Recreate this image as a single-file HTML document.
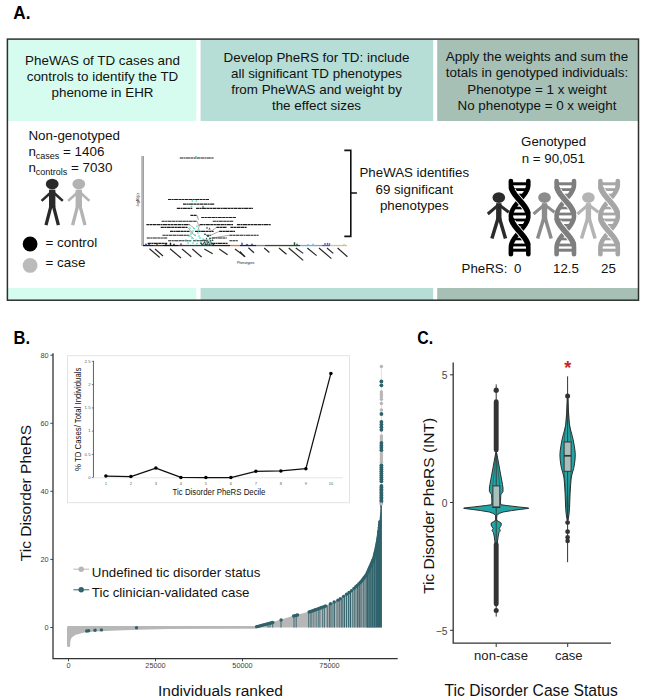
<!DOCTYPE html>
<html><head><meta charset="utf-8"><title>Figure</title>
<style>html,body{margin:0;padding:0;background:#fff}svg{display:block}text{font-family:"Liberation Sans",sans-serif}</style>
</head><body>
<svg width="647" height="700" viewBox="0 0 647 700">
<rect width="647" height="700" fill="#fff"/>
<text x="13.3" y="19.2" font-size="18.6" font-weight="bold" textLength="17.2" lengthAdjust="spacingAndGlyphs" fill="#000">A.</text>
<rect x="8" y="40" width="188.3" height="81" fill="#d5fcee"/>
<rect x="200.6" y="40" width="232.6" height="81" fill="#b6ddd6"/>
<rect x="437.2" y="40" width="201.3" height="81" fill="#a6c0b6"/>
<rect x="8" y="288" width="188.3" height="12.2" fill="#d5fcee"/>
<rect x="200.6" y="288" width="232.6" height="12.2" fill="#b6ddd6"/>
<rect x="437.2" y="288" width="201.3" height="12.2" fill="#a6c0b6"/>
<rect x="7.4" y="39.1" width="631.1" height="261.1" fill="none" stroke="#2e2e2e" stroke-width="1.5"/>
<text x="102.5" y="65" font-size="13.4" text-anchor="middle" fill="#111">PheWAS of TD cases and</text>
<text x="102.5" y="81" font-size="13.4" text-anchor="middle" fill="#111">controls to identify the TD</text>
<text x="102.5" y="97" font-size="13.4" text-anchor="middle" fill="#111">phenome in EHR</text>
<text x="316.5" y="62.1" font-size="13.4" text-anchor="middle" fill="#111">Develop PheRS for TD: include</text>
<text x="316.5" y="78.1" font-size="13.4" text-anchor="middle" fill="#111">all significant TD phenotypes</text>
<text x="316.5" y="94.1" font-size="13.4" text-anchor="middle" fill="#111">from PheWAS and weight by</text>
<text x="316.5" y="110.1" font-size="13.4" text-anchor="middle" fill="#111">the effect sizes</text>
<text x="537" y="61.2" font-size="13.4" text-anchor="middle" fill="#111">Apply the weights and sum the</text>
<text x="537" y="77.4" font-size="13.4" text-anchor="middle" fill="#111">totals in genotyped individuals:</text>
<text x="537" y="93.6" font-size="13.4" text-anchor="middle" fill="#111">Phenotype = 1 x weight</text>
<text x="537" y="109.8" font-size="13.4" text-anchor="middle" fill="#111">No phenotype = 0 x weight</text>
<text x="28.4" y="139.5" font-size="13.4" fill="#111">Non-genotyped</text>
<text x="28.4" y="156.1" font-size="13.4" fill="#111">n<tspan font-size="9" dy="3">cases</tspan><tspan dy="-3"> = 1406</tspan></text>
<text x="28.4" y="172" font-size="13.4" fill="#111">n<tspan font-size="9" dy="3">controls</tspan><tspan dy="-3"> = 7030</tspan></text>
<g fill="#2a2a2a" stroke="#2a2a2a" stroke-linecap="butt"><ellipse cx="52.2" cy="184.1" rx="6.40" ry="5.30" stroke="none"/><rect x="49.00" y="189.70" width="6.40" height="17.50" stroke="none"/><path d="M52.2 191.30 L41.60 200.90 M52.2 191.30 L62.80 200.90" stroke-width="2.60" fill="none"/><path d="M51.20 205.10 L46.00 225.10 M53.20 205.10 L58.40 225.10" stroke-width="3.30" fill="none"/></g>
<g fill="#b3b3b3" stroke="#b3b3b3" stroke-linecap="butt"><ellipse cx="78.8" cy="184.1" rx="6.40" ry="5.30" stroke="none"/><rect x="75.60" y="189.70" width="6.40" height="17.50" stroke="none"/><path d="M78.8 191.30 L68.20 200.90 M78.8 191.30 L89.40 200.90" stroke-width="2.60" fill="none"/><path d="M77.80 205.10 L72.60 225.10 M79.80 205.10 L85.00 225.10" stroke-width="3.30" fill="none"/></g>
<circle cx="30.1" cy="244" r="7.4" fill="#000"/>
<circle cx="30.1" cy="265.4" r="7.4" fill="#bbbbbb"/>
<text x="45.5" y="246.5" font-size="13.4" fill="#111">= control</text>
<text x="45.5" y="267.3" font-size="13.4" fill="#111">= case</text>
<g>
<rect x="141.2" y="156" width="2.3" height="90" fill="#b4b4b4"/>
<rect x="143.3" y="156" width="0.5" height="90" fill="#666"/>
<text transform="translate(138.6,207) rotate(-90)" font-size="3.4" fill="#111">-log10(p)</text>
<rect x="143" y="244.9" width="10" height="1.3" fill="#15154a"/>
<rect x="153" y="244.9" width="10" height="1.3" fill="#5a2418"/>
<rect x="163" y="244.9" width="15" height="1.3" fill="#111"/>
<rect x="178" y="244.9" width="6" height="1.3" fill="#4a2a5a"/>
<rect x="184" y="244.9" width="28" height="1.3" fill="#1f4a44"/>
<rect x="212" y="244.9" width="18" height="1.3" fill="#2a1a14"/>
<rect x="230" y="244.9" width="10" height="1.3" fill="#e0703c"/>
<rect x="240" y="244.9" width="16" height="1.3" fill="#1c1c5e"/>
<rect x="256" y="244.9" width="9" height="1.3" fill="#8a7a80"/>
<rect x="265" y="244.9" width="25" height="1.3" fill="#3a4a2a"/>
<rect x="290" y="244.9" width="10" height="1.3" fill="#1d4a2a"/>
<rect x="300" y="244.9" width="15" height="1.3" fill="#6aaede"/>
<rect x="315" y="244.9" width="7" height="1.3" fill="#999"/>
<rect x="322" y="244.9" width="8" height="1.3" fill="#5a5ab8"/>
<rect x="330" y="244.9" width="17" height="1.3" fill="#d8c090"/>
<rect x="145.3" y="243.70000000000002" width="1.4" height="1.2" fill="#15154a"/>
<rect x="148.3" y="243.9" width="1.4" height="1" fill="#15154a"/>
<rect x="156.3" y="243.9" width="1.4" height="1" fill="#5a2418"/>
<rect x="165.3" y="243.70000000000002" width="1.4" height="1.2" fill="#111"/>
<rect x="169.8" y="242.70000000000002" width="1.4" height="2.2" fill="#111"/>
<rect x="173.3" y="243.70000000000002" width="1.4" height="1.2" fill="#111"/>
<rect x="180.3" y="243.4" width="1.4" height="1.5" fill="#4a2a5a"/>
<rect x="241.3" y="242.70000000000002" width="1.4" height="2.2" fill="#3a3ac0"/>
<rect x="246.3" y="243.9" width="1.4" height="1" fill="#1c1c5e"/>
<rect x="251.3" y="243.70000000000002" width="1.4" height="1.2" fill="#1c1c5e"/>
<rect x="293.8" y="242.3" width="1.4" height="2.6" fill="#1d4a2a"/>
<rect x="296.3" y="243.70000000000002" width="1.4" height="1.2" fill="#1d4a2a"/>
<rect x="307.3" y="244.1" width="1.4" height="0.8" fill="#6aaede"/>
<rect x="312.3" y="243.70000000000002" width="1.4" height="1.2" fill="#6aaede"/>
<rect x="324.3" y="243.1" width="1.4" height="1.8" fill="#5a5ab8"/>
<rect x="326.8" y="242.9" width="1.4" height="2" fill="#5a5ab8"/>
<rect x="328.8" y="243.3" width="1.4" height="1.6" fill="#5a5ab8"/>
<rect x="343.3" y="243.9" width="1.4" height="1" fill="#d8c090"/>
<path d="M179.8 158 H213.6" stroke="#111" stroke-width="1.15" stroke-dasharray="3.2 0.4 2.1 0.4 4 0.4" opacity="0.95"/>
<path d="M168 199.5 H209" stroke="#111" stroke-width="1.15" stroke-dasharray="3.2 0.4 2.1 0.4 4 0.4" opacity="0.95"/>
<path d="M183 204.1 H214.6" stroke="#111" stroke-width="1.15" stroke-dasharray="3.2 0.4 2.1 0.4 4 0.4" opacity="0.95"/>
<path d="M176.8 208.4 H192.3" stroke="#111" stroke-width="1.15" stroke-dasharray="3.2 0.4 2.1 0.4 4 0.4" opacity="0.95"/>
<path d="M196 208.4 H253" stroke="#111" stroke-width="1.15" stroke-dasharray="3.2 0.4 2.1 0.4 4 0.4" opacity="0.95"/>
<path d="M190.4 215.3 H197" stroke="#111" stroke-width="1.15" stroke-dasharray="3.2 0.4 2.1 0.4 4 0.4" opacity="0.95"/>
<path d="M201.2 217.5 H236" stroke="#111" stroke-width="1.15" stroke-dasharray="3.2 0.4 2.1 0.4 4 0.4" opacity="0.95"/>
<path d="M161.6 221.2 H197" stroke="#111" stroke-width="1.15" stroke-dasharray="3.2 0.4 2.1 0.4 4 0.4" opacity="0.95"/>
<path d="M212.7 221.2 H233.2" stroke="#111" stroke-width="1.15" stroke-dasharray="3.2 0.4 2.1 0.4 4 0.4" opacity="0.95"/>
<path d="M146.4 224.6 H189.5" stroke="#111" stroke-width="1.15" stroke-dasharray="3.2 0.4 2.1 0.4 4 0.4" opacity="0.95"/>
<path d="M199.7 224.6 H233" stroke="#111" stroke-width="1.15" stroke-dasharray="3.2 0.4 2.1 0.4 4 0.4" opacity="0.95"/>
<path d="M236.9 224.6 H270.7" stroke="#111" stroke-width="1.15" stroke-dasharray="3.2 0.4 2.1 0.4 4 0.4" opacity="0.95"/>
<path d="M160.7 227.4 H187.6" stroke="#111" stroke-width="1.15" stroke-dasharray="3.2 0.4 2.1 0.4 4 0.4" opacity="0.95"/>
<path d="M216.4 227.4 H226.7" stroke="#111" stroke-width="1.15" stroke-dasharray="3.2 0.4 2.1 0.4 4 0.4" opacity="0.95"/>
<path d="M230.4 227.4 H247" stroke="#111" stroke-width="1.15" stroke-dasharray="3.2 0.4 2.1 0.4 4 0.4" opacity="0.95"/>
<path d="M170 231.4 H189.5" stroke="#111" stroke-width="1.15" stroke-dasharray="3.2 0.4 2.1 0.4 4 0.4" opacity="0.95"/>
<path d="M195 231.4 H213.6" stroke="#111" stroke-width="1.15" stroke-dasharray="3.2 0.4 2.1 0.4 4 0.4" opacity="0.95"/>
<path d="M219.2 231.4 H235" stroke="#111" stroke-width="1.15" stroke-dasharray="3.2 0.4 2.1 0.4 4 0.4" opacity="0.95"/>
<path d="M162.5 235.2 H189.5" stroke="#111" stroke-width="1.15" stroke-dasharray="3.2 0.4 2.1 0.4 4 0.4" opacity="0.95"/>
<path d="M206.2 235.2 H210.9" stroke="#111" stroke-width="1.15" stroke-dasharray="3.2 0.4 2.1 0.4 4 0.4" opacity="0.95"/>
<path d="M229.4 235.2 H258.6" stroke="#111" stroke-width="1.15" stroke-dasharray="3.2 0.4 2.1 0.4 4 0.4" opacity="0.95"/>
<path d="M146.7 238 H167.2" stroke="#111" stroke-width="1.15" stroke-dasharray="3.2 0.4 2.1 0.4 4 0.4" opacity="0.95"/>
<path d="M211.8 238 H226.7" stroke="#111" stroke-width="1.15" stroke-dasharray="3.2 0.4 2.1 0.4 4 0.4" opacity="0.95"/>
<path d="M168.1 240.7 H191.3" stroke="#111" stroke-width="1.15" stroke-dasharray="3.2 0.4 2.1 0.4 4 0.4" opacity="0.95"/>
<path d="M193.2 240.7 H208" stroke="#111" stroke-width="1.15" stroke-dasharray="3.2 0.4 2.1 0.4 4 0.4" opacity="0.95"/>
<path d="M229.4 240.7 H237.8" stroke="#111" stroke-width="1.15" stroke-dasharray="3.2 0.4 2.1 0.4 4 0.4" opacity="0.95"/>
<path d="M147.7 243.3 H167.2" stroke="#111" stroke-width="1.15" stroke-dasharray="3.2 0.4 2.1 0.4 4 0.4" opacity="0.95"/>
<path d="M211.8 243.3 H227.6" stroke="#111" stroke-width="1.15" stroke-dasharray="3.2 0.4 2.1 0.4 4 0.4" opacity="0.95"/>
<path d="M189.5 224.6 L195 229" stroke="#333" stroke-width="0.4"/>
<path d="M187.6 227.4 L193 233" stroke="#333" stroke-width="0.4"/>
<path d="M189.5 231.4 L196 236" stroke="#333" stroke-width="0.4"/>
<path d="M189.5 235.2 L194 239" stroke="#333" stroke-width="0.4"/>
<path d="M199.7 224.6 L198 230" stroke="#333" stroke-width="0.4"/>
<path d="M216.4 227.4 L210 232" stroke="#333" stroke-width="0.4"/>
<path d="M219.2 231.4 L209 236" stroke="#333" stroke-width="0.4"/>
<path d="M229.4 235.2 L212 238" stroke="#333" stroke-width="0.4"/>
<path d="M211.8 238 L207 241" stroke="#333" stroke-width="0.4"/>
<path d="M197 215.3 L198.5 220" stroke="#333" stroke-width="0.4"/>
<path d="M197 221.2 L199 226" stroke="#333" stroke-width="0.4"/>
<circle cx="196" cy="156.7" r="0.85" fill="#3fe0c0"/>
<circle cx="192.3" cy="201" r="0.85" fill="#3fe0c0"/>
<circle cx="196.5" cy="201" r="0.85" fill="#3fe0c0"/>
<circle cx="191.5" cy="206.5" r="0.85" fill="#3fe0c0"/>
<circle cx="197.5" cy="217" r="0.85" fill="#3fe0c0"/>
<circle cx="190" cy="228" r="0.85" fill="#3fe0c0"/>
<circle cx="193" cy="231" r="0.85" fill="#3fe0c0"/>
<circle cx="197" cy="226" r="0.85" fill="#3fe0c0"/>
<circle cx="199" cy="230" r="0.85" fill="#3fe0c0"/>
<circle cx="195" cy="235" r="0.85" fill="#3fe0c0"/>
<circle cx="192" cy="238" r="0.85" fill="#3fe0c0"/>
<circle cx="190" cy="241" r="0.85" fill="#3fe0c0"/>
<circle cx="196" cy="240" r="0.85" fill="#3fe0c0"/>
<circle cx="199" cy="236" r="0.85" fill="#3fe0c0"/>
<circle cx="201" cy="242" r="0.85" fill="#3fe0c0"/>
<circle cx="193" cy="243" r="0.85" fill="#3fe0c0"/>
<circle cx="197" cy="243.5" r="0.85" fill="#3fe0c0"/>
<circle cx="188" cy="243" r="0.85" fill="#3fe0c0"/>
<circle cx="186" cy="240" r="0.85" fill="#3fe0c0"/>
<circle cx="203" cy="239" r="0.85" fill="#3fe0c0"/>
<circle cx="205" cy="243" r="0.85" fill="#3fe0c0"/>
<circle cx="191" cy="234" r="0.85" fill="#3fe0c0"/>
<circle cx="198" cy="233" r="0.85" fill="#3fe0c0"/>
<circle cx="200" cy="238" r="0.85" fill="#3fe0c0"/>
<circle cx="194" cy="228.5" r="0.85" fill="#3fe0c0"/>
<circle cx="208" cy="243.5" r="0.85" fill="#3fe0c0"/>
<circle cx="210" cy="241" r="0.85" fill="#3fe0c0"/>
<circle cx="189" cy="236" r="0.85" fill="#3fe0c0"/>
<path d="M200.9 244.9 L203.1 244.9 L202 242.9 Z" fill="#1f5048"/>
<path d="M202.4 244.4 L204.6 244.4 L203.5 242.4 Z" fill="#1f5048"/>
<path d="M204.4 245.1 L206.6 245.1 L205.5 243.1 Z" fill="#1f5048"/>
<path d="M206.4 244.70000000000002 L208.6 244.70000000000002 L207.5 242.70000000000002 Z" fill="#1f5048"/>
<path d="M208.4 244.9 L210.6 244.9 L209.5 242.9 Z" fill="#1f5048"/>
<path d="M210.4 244.5 L212.6 244.5 L211.5 242.5 Z" fill="#1f5048"/>
<path d="M212.4 244.9 L214.6 244.9 L213.5 242.9 Z" fill="#1f5048"/>
<path d="M203.4 242.9 L205.6 242.9 L204.5 240.9 Z" fill="#1f5048"/>
<path d="M207.4 242.9 L209.6 242.9 L208.5 240.9 Z" fill="#1f5048"/>
<path d="M209.4 241.4 L211.6 241.4 L210.5 239.4 Z" fill="#1f5048"/>
<path d="M205.4 239.4 L207.6 239.4 L206.5 237.4 Z" fill="#1f5048"/>
<path d="M201.9 207.4 L204.1 207.4 L203 205.4 Z" fill="#1f5048"/>
<path d="M205.9 228.4 L208.1 228.4 L207 226.4 Z" fill="#1f5048"/>
<path d="M208.4 229.4 L210.6 229.4 L209.5 227.4 Z" fill="#1f5048"/>
<path d="M203.9 234.9 L206.1 234.9 L205 232.9 Z" fill="#1f5048"/>
<path d="M206.9 236.9 L209.1 236.9 L208 234.9 Z" fill="#1f5048"/>
<path d="M208.9 238.9 L211.1 238.9 L210 236.9 Z" fill="#1f5048"/>
<path d="M202.9 240.9 L205.1 240.9 L204 238.9 Z" fill="#1f5048"/>
<path d="M205.9 242.4 L208.1 242.4 L207 240.4 Z" fill="#1f5048"/>
<path d="M209.9 243.4 L212.1 243.4 L211 241.4 Z" fill="#1f5048"/>
<path d="M199.9 243.9 L202.1 243.9 L201 241.9 Z" fill="#1f5048"/>
<path d="M211.4 240.9 L213.6 240.9 L212.5 238.9 Z" fill="#1f5048"/>
<path d="M204.9 244.9 L207.1 244.9 L206 242.9 Z" fill="#1f5048"/>
<path d="M149.5 248.7 L159.7 257.5" stroke="#1a1a1a" stroke-width="1.15" opacity="0.95"/>
<path d="M155 249 L163 256" stroke="#1a1a1a" stroke-width="1.15" opacity="0.95"/>
<path d="M170 248.7 L181 258" stroke="#1a1a1a" stroke-width="1.15" opacity="0.95"/>
<path d="M182 249 L191.3 256.7" stroke="#1a1a1a" stroke-width="1.15" opacity="0.95"/>
<path d="M192.3 249 L201.6 257" stroke="#1a1a1a" stroke-width="1.15" opacity="0.95"/>
<path d="M204.3 249 L212.7 253.8" stroke="#1a1a1a" stroke-width="1.15" opacity="0.95"/>
<path d="M219.2 249 L227.6 254.7" stroke="#1a1a1a" stroke-width="1.15" opacity="0.95"/>
<path d="M235 249 L245.2 256.7" stroke="#1a1a1a" stroke-width="1.15" opacity="0.95"/>
<path d="M240 251.5 L244.6 256.7" stroke="#1a1a1a" stroke-width="1.15" opacity="0.95"/>
<path d="M248.4 247.8 L254 252.8" stroke="#1a1a1a" stroke-width="1.15" opacity="0.95"/>
<path d="M264.2 248 L269.4 252.5" stroke="#1a1a1a" stroke-width="1.15" opacity="0.95"/>
<path d="M279 248 L286.5 254.3" stroke="#1a1a1a" stroke-width="1.15" opacity="0.95"/>
<path d="M288.7 248 L303.2 260.4" stroke="#1a1a1a" stroke-width="1.15" opacity="0.95"/>
<path d="M295.8 248 L303.2 253.4" stroke="#1a1a1a" stroke-width="1.15" opacity="0.95"/>
<path d="M307.3 248 L316.6 255.6" stroke="#1a1a1a" stroke-width="1.15" opacity="0.95"/>
<path d="M319 248 L331.4 258.6" stroke="#1a1a1a" stroke-width="1.15" opacity="0.95"/>
<path d="M327 248 L333.3 253.4" stroke="#1a1a1a" stroke-width="1.15" opacity="0.95"/>
<path d="M337.6 248 L347.4 256.7" stroke="#1a1a1a" stroke-width="1.15" opacity="0.95"/>
<text x="237" y="264.2" font-size="3.3" fill="#222">Phenotypes</text>
</g>
<path d="M344.3 150.4 H350.8 V236.4 H344.3 M350.8 193 H356.9" fill="none" stroke="#111" stroke-width="1.6"/>
<text x="414.3" y="177.2" font-size="13.3" text-anchor="middle" fill="#111">PheWAS identifies</text>
<text x="414.3" y="194.1" font-size="13.3" text-anchor="middle" fill="#111">69 significant</text>
<text x="414.3" y="209.7" font-size="13.3" text-anchor="middle" fill="#111">phenotypes</text>
<text x="553.6" y="146" font-size="13.3" text-anchor="middle" fill="#111">Genotyped</text>
<text x="553.3" y="163" font-size="13.3" text-anchor="middle" fill="#111">n = 90,051</text>
<g fill="#2b2b2b" stroke="#2b2b2b" stroke-linecap="butt"><ellipse cx="498.8" cy="197.6" rx="6.3" ry="5.3" stroke="none"/><rect x="496.10" y="203.20" width="5.4" height="17.4" stroke="none"/><path d="M498.8 204.60 L487.80 214.00 M498.8 204.60 L508.80 212.20" stroke-width="3" fill="none"/><path d="M498.00 218.60 L491.90 238.40 M499.60 218.60 L505.50 238.40" stroke-width="3.5" fill="none"/></g>
<g fill="none" stroke="#000" stroke-linecap="round" stroke-linejoin="round">
<path d="M510.90 183.8 H528.30" stroke-width="3.0" stroke-linecap="butt"/>
<path d="M512.00 189.6 H527.20" stroke-width="2.8" stroke-linecap="butt"/>
<path d="M515.25 195 H523.95" stroke-width="2.6" stroke-linecap="butt"/>
<path d="M513.53 208 H525.67" stroke-width="2.6" stroke-linecap="butt"/>
<path d="M511.07 214 H528.13" stroke-width="2.8" stroke-linecap="butt"/>
<path d="M511.58 220 H527.62" stroke-width="2.8" stroke-linecap="butt"/>
<path d="M514.38 225.3 H524.82" stroke-width="2.6" stroke-linecap="butt"/>
<path d="M513.84 239 H525.36" stroke-width="2.6" stroke-linecap="butt"/>
<path d="M511.17 245 H528.03" stroke-width="2.8" stroke-linecap="butt"/>
<path d="M510.90 250.2 H528.30" stroke-width="3.0" stroke-linecap="butt"/>
<path d="M528.30 181.00 L528.30 182.22 L528.30 183.44 L528.30 184.66 L528.22 185.88 L528.01 187.10 L527.68 188.32 L527.22 189.54 L526.66 190.76 L525.99 191.98 L525.23 193.20 L524.38 194.42 L523.46 195.64 L522.49 196.86 L521.47 198.08 L520.42 199.30 L519.37 200.52 L518.31 201.74 L517.28 202.96 L516.28 204.18 L515.33 205.40 L514.44 206.62 L513.63 207.84 L512.90 209.06 L512.28 210.28 L511.76 211.50 L511.36 212.72 L511.08 213.94 L510.93 215.16 L510.91 216.38 L511.01 217.60 L511.24 218.82 L511.60 220.04 L512.07 221.26 L512.65 222.48 L513.34 223.70 L514.12 224.92 L514.98 226.14 L515.91 227.36 L516.90 228.58 L517.92 229.80 L518.97 231.02 L520.02 232.24 L521.08 233.46 L522.11 234.68 L523.10 235.90 L524.04 237.12 L524.92 238.34 L525.71 239.56 L526.42 240.78 L527.02 242.00 L527.52 243.22 L527.90 244.44 L528.15 245.66 L528.28 246.88 L528.30 248.10 L528.30 249.32 L528.30 250.54 L528.30 251.76 L528.30 252.98 L528.30 254.20" stroke-width="4.6"/>
<path d="M510.90 181.00 L510.90 182.22 L510.90 183.44 L510.90 184.66 L510.98 185.88 L511.19 187.10 L511.52 188.32 L511.98 189.54 L512.54 190.76 L513.21 191.98 L513.97 193.20 L514.82 194.42 L515.74 195.64 L516.71 196.86 L517.73 198.08 L518.78 199.30 L519.83 200.52 L520.89 201.74 L521.92 202.96 L522.92 204.18 L523.87 205.40 L524.76 206.62 L525.57 207.84 L526.30 209.06 L526.92 210.28 L527.44 211.50 L527.84 212.72 L528.12 213.94 L528.27 215.16 L528.29 216.38 L528.19 217.60 L527.96 218.82 L527.60 220.04 L527.13 221.26 L526.55 222.48 L525.86 223.70 L525.08 224.92 L524.22 226.14 L523.29 227.36 L522.30 228.58 L521.28 229.80 L520.23 231.02 L519.18 232.24 L518.12 233.46 L517.09 234.68 L516.10 235.90 L515.16 237.12 L514.28 238.34 L513.49 239.56 L512.78 240.78 L512.18 242.00 L511.68 243.22 L511.30 244.44 L511.05 245.66 L510.92 246.88 L510.90 248.10 L510.90 249.32 L510.90 250.54 L510.90 251.76 L510.90 252.98 L510.90 254.20" stroke-width="4.6"/>
<path d="M512.18 190.01 L512.51 190.69 L512.87 191.38 L513.26 192.06 L513.68 192.74 L514.12 193.42 L514.60 194.11 L515.09 194.79 L515.61 195.47 L516.14 196.16 L516.70 196.84 L517.26 197.52 L517.84 198.20 L518.42 198.88 L519.01 199.57 L519.60 200.25 L520.19 200.93 L520.78 201.62 L521.36 202.30 L521.94 202.98 L522.50 203.66 L523.06 204.34 L523.59 205.03 L524.11 205.71 L524.60 206.39 L525.08 207.08 L525.52 207.76 L525.94 208.44 L526.33 209.12 L526.69 209.81 L527.02 210.49" stroke="#fff" stroke-width="7.199999999999999" stroke-linecap="butt"/>
<path d="M511.43 188.01 L511.70 188.83 L512.02 189.64 L512.39 190.46 L512.81 191.28 L513.28 192.09 L513.78 192.91 L514.33 193.72 L514.91 194.54 L515.52 195.35 L516.16 196.17 L516.82 196.99 L517.50 197.80 L518.19 198.62 L518.89 199.43 L519.60 200.25 L520.31 201.07 L521.01 201.88 L521.70 202.70 L522.38 203.51 L523.04 204.33 L523.68 205.15 L524.29 205.96 L524.87 206.78 L525.42 207.59 L525.92 208.41 L526.39 209.22 L526.81 210.04 L527.18 210.86 L527.50 211.67 L527.77 212.49" stroke-width="5.5"/>
<path d="M512.18 221.51 L512.51 222.19 L512.87 222.88 L513.26 223.56 L513.68 224.24 L514.12 224.92 L514.60 225.61 L515.09 226.29 L515.61 226.97 L516.14 227.66 L516.70 228.34 L517.26 229.02 L517.84 229.70 L518.42 230.38 L519.01 231.07 L519.60 231.75 L520.19 232.43 L520.78 233.12 L521.36 233.80 L521.94 234.48 L522.50 235.16 L523.06 235.84 L523.59 236.53 L524.11 237.21 L524.60 237.89 L525.08 238.58 L525.52 239.26 L525.94 239.94 L526.33 240.62 L526.69 241.31 L527.02 241.99" stroke="#fff" stroke-width="7.199999999999999" stroke-linecap="butt"/>
<path d="M511.43 219.51 L511.70 220.33 L512.02 221.14 L512.39 221.96 L512.81 222.78 L513.28 223.59 L513.78 224.41 L514.33 225.22 L514.91 226.04 L515.52 226.85 L516.16 227.67 L516.82 228.49 L517.50 229.30 L518.19 230.12 L518.89 230.93 L519.60 231.75 L520.31 232.57 L521.01 233.38 L521.70 234.20 L522.38 235.01 L523.04 235.83 L523.68 236.65 L524.29 237.46 L524.87 238.28 L525.42 239.09 L525.92 239.91 L526.39 240.72 L526.81 241.54 L527.18 242.36 L527.50 243.17 L527.77 243.99" stroke-width="5.5"/>
</g>
<g fill="#8c8c8c" stroke="#8c8c8c" stroke-linecap="butt"><ellipse cx="544.5" cy="197.6" rx="6.3" ry="5.3" stroke="none"/><rect x="541.80" y="203.20" width="5.4" height="17.4" stroke="none"/><path d="M544.5 204.60 L533.50 214.00 M544.5 204.60 L554.50 212.20" stroke-width="3" fill="none"/><path d="M543.70 218.60 L537.60 238.40 M545.30 218.60 L551.20 238.40" stroke-width="3.5" fill="none"/></g>
<g fill="none" stroke="#7e7e7e" stroke-linecap="round" stroke-linejoin="round">
<path d="M556.60 183.8 H574.00" stroke-width="3.0" stroke-linecap="butt"/>
<path d="M557.70 189.6 H572.90" stroke-width="2.8" stroke-linecap="butt"/>
<path d="M560.95 195 H569.65" stroke-width="2.6" stroke-linecap="butt"/>
<path d="M559.23 208 H571.37" stroke-width="2.6" stroke-linecap="butt"/>
<path d="M556.77 214 H573.83" stroke-width="2.8" stroke-linecap="butt"/>
<path d="M557.28 220 H573.32" stroke-width="2.8" stroke-linecap="butt"/>
<path d="M560.08 225.3 H570.52" stroke-width="2.6" stroke-linecap="butt"/>
<path d="M559.54 239 H571.06" stroke-width="2.6" stroke-linecap="butt"/>
<path d="M556.87 245 H573.73" stroke-width="2.8" stroke-linecap="butt"/>
<path d="M556.60 250.2 H574.00" stroke-width="3.0" stroke-linecap="butt"/>
<path d="M574.00 181.00 L574.00 182.22 L574.00 183.44 L574.00 184.66 L573.92 185.88 L573.71 187.10 L573.38 188.32 L572.92 189.54 L572.36 190.76 L571.69 191.98 L570.93 193.20 L570.08 194.42 L569.16 195.64 L568.19 196.86 L567.17 198.08 L566.12 199.30 L565.07 200.52 L564.01 201.74 L562.98 202.96 L561.98 204.18 L561.03 205.40 L560.14 206.62 L559.33 207.84 L558.60 209.06 L557.98 210.28 L557.46 211.50 L557.06 212.72 L556.78 213.94 L556.63 215.16 L556.61 216.38 L556.71 217.60 L556.94 218.82 L557.30 220.04 L557.77 221.26 L558.35 222.48 L559.04 223.70 L559.82 224.92 L560.68 226.14 L561.61 227.36 L562.60 228.58 L563.62 229.80 L564.67 231.02 L565.72 232.24 L566.78 233.46 L567.81 234.68 L568.80 235.90 L569.74 237.12 L570.62 238.34 L571.41 239.56 L572.12 240.78 L572.72 242.00 L573.22 243.22 L573.60 244.44 L573.85 245.66 L573.98 246.88 L574.00 248.10 L574.00 249.32 L574.00 250.54 L574.00 251.76 L574.00 252.98 L574.00 254.20" stroke-width="4.6"/>
<path d="M556.60 181.00 L556.60 182.22 L556.60 183.44 L556.60 184.66 L556.68 185.88 L556.89 187.10 L557.22 188.32 L557.68 189.54 L558.24 190.76 L558.91 191.98 L559.67 193.20 L560.52 194.42 L561.44 195.64 L562.41 196.86 L563.43 198.08 L564.48 199.30 L565.53 200.52 L566.59 201.74 L567.62 202.96 L568.62 204.18 L569.57 205.40 L570.46 206.62 L571.27 207.84 L572.00 209.06 L572.62 210.28 L573.14 211.50 L573.54 212.72 L573.82 213.94 L573.97 215.16 L573.99 216.38 L573.89 217.60 L573.66 218.82 L573.30 220.04 L572.83 221.26 L572.25 222.48 L571.56 223.70 L570.78 224.92 L569.92 226.14 L568.99 227.36 L568.00 228.58 L566.98 229.80 L565.93 231.02 L564.88 232.24 L563.82 233.46 L562.79 234.68 L561.80 235.90 L560.86 237.12 L559.98 238.34 L559.19 239.56 L558.48 240.78 L557.88 242.00 L557.38 243.22 L557.00 244.44 L556.75 245.66 L556.62 246.88 L556.60 248.10 L556.60 249.32 L556.60 250.54 L556.60 251.76 L556.60 252.98 L556.60 254.20" stroke-width="4.6"/>
<path d="M557.88 190.01 L558.21 190.69 L558.57 191.38 L558.96 192.06 L559.38 192.74 L559.82 193.42 L560.30 194.11 L560.79 194.79 L561.31 195.47 L561.84 196.16 L562.40 196.84 L562.96 197.52 L563.54 198.20 L564.12 198.88 L564.71 199.57 L565.30 200.25 L565.89 200.93 L566.48 201.62 L567.06 202.30 L567.64 202.98 L568.20 203.66 L568.76 204.34 L569.29 205.03 L569.81 205.71 L570.30 206.39 L570.78 207.08 L571.22 207.76 L571.64 208.44 L572.03 209.12 L572.39 209.81 L572.72 210.49" stroke="#fff" stroke-width="7.199999999999999" stroke-linecap="butt"/>
<path d="M557.13 188.01 L557.40 188.83 L557.72 189.64 L558.09 190.46 L558.51 191.28 L558.98 192.09 L559.48 192.91 L560.03 193.72 L560.61 194.54 L561.22 195.35 L561.86 196.17 L562.52 196.99 L563.20 197.80 L563.89 198.62 L564.59 199.43 L565.30 200.25 L566.01 201.07 L566.71 201.88 L567.40 202.70 L568.08 203.51 L568.74 204.33 L569.38 205.15 L569.99 205.96 L570.57 206.78 L571.12 207.59 L571.62 208.41 L572.09 209.22 L572.51 210.04 L572.88 210.86 L573.20 211.67 L573.47 212.49" stroke-width="5.5"/>
<path d="M557.88 221.51 L558.21 222.19 L558.57 222.88 L558.96 223.56 L559.38 224.24 L559.82 224.92 L560.30 225.61 L560.79 226.29 L561.31 226.97 L561.84 227.66 L562.40 228.34 L562.96 229.02 L563.54 229.70 L564.12 230.38 L564.71 231.07 L565.30 231.75 L565.89 232.43 L566.48 233.12 L567.06 233.80 L567.64 234.48 L568.20 235.16 L568.76 235.84 L569.29 236.53 L569.81 237.21 L570.30 237.89 L570.78 238.58 L571.22 239.26 L571.64 239.94 L572.03 240.62 L572.39 241.31 L572.72 241.99" stroke="#fff" stroke-width="7.199999999999999" stroke-linecap="butt"/>
<path d="M557.13 219.51 L557.40 220.33 L557.72 221.14 L558.09 221.96 L558.51 222.78 L558.98 223.59 L559.48 224.41 L560.03 225.22 L560.61 226.04 L561.22 226.85 L561.86 227.67 L562.52 228.49 L563.20 229.30 L563.89 230.12 L564.59 230.93 L565.30 231.75 L566.01 232.57 L566.71 233.38 L567.40 234.20 L568.08 235.01 L568.74 235.83 L569.38 236.65 L569.99 237.46 L570.57 238.28 L571.12 239.09 L571.62 239.91 L572.09 240.72 L572.51 241.54 L572.88 242.36 L573.20 243.17 L573.47 243.99" stroke-width="5.5"/>
</g>
<g fill="#b4b4b4" stroke="#b4b4b4" stroke-linecap="butt"><ellipse cx="588.4" cy="197.6" rx="6.3" ry="5.3" stroke="none"/><rect x="585.70" y="203.20" width="5.4" height="17.4" stroke="none"/><path d="M588.4 204.60 L577.40 214.00 M588.4 204.60 L598.40 212.20" stroke-width="3" fill="none"/><path d="M587.60 218.60 L581.50 238.40 M589.20 218.60 L595.10 238.40" stroke-width="3.5" fill="none"/></g>
<g fill="none" stroke="#a6a6a6" stroke-linecap="round" stroke-linejoin="round">
<path d="M600.40 183.8 H617.80" stroke-width="3.0" stroke-linecap="butt"/>
<path d="M601.50 189.6 H616.70" stroke-width="2.8" stroke-linecap="butt"/>
<path d="M604.75 195 H613.45" stroke-width="2.6" stroke-linecap="butt"/>
<path d="M603.03 208 H615.17" stroke-width="2.6" stroke-linecap="butt"/>
<path d="M600.57 214 H617.63" stroke-width="2.8" stroke-linecap="butt"/>
<path d="M601.08 220 H617.12" stroke-width="2.8" stroke-linecap="butt"/>
<path d="M603.88 225.3 H614.32" stroke-width="2.6" stroke-linecap="butt"/>
<path d="M603.34 239 H614.86" stroke-width="2.6" stroke-linecap="butt"/>
<path d="M600.67 245 H617.53" stroke-width="2.8" stroke-linecap="butt"/>
<path d="M600.40 250.2 H617.80" stroke-width="3.0" stroke-linecap="butt"/>
<path d="M617.80 181.00 L617.80 182.22 L617.80 183.44 L617.80 184.66 L617.72 185.88 L617.51 187.10 L617.18 188.32 L616.72 189.54 L616.16 190.76 L615.49 191.98 L614.73 193.20 L613.88 194.42 L612.96 195.64 L611.99 196.86 L610.97 198.08 L609.92 199.30 L608.87 200.52 L607.81 201.74 L606.78 202.96 L605.78 204.18 L604.83 205.40 L603.94 206.62 L603.13 207.84 L602.40 209.06 L601.78 210.28 L601.26 211.50 L600.86 212.72 L600.58 213.94 L600.43 215.16 L600.41 216.38 L600.51 217.60 L600.74 218.82 L601.10 220.04 L601.57 221.26 L602.15 222.48 L602.84 223.70 L603.62 224.92 L604.48 226.14 L605.41 227.36 L606.40 228.58 L607.42 229.80 L608.47 231.02 L609.52 232.24 L610.58 233.46 L611.61 234.68 L612.60 235.90 L613.54 237.12 L614.42 238.34 L615.21 239.56 L615.92 240.78 L616.52 242.00 L617.02 243.22 L617.40 244.44 L617.65 245.66 L617.78 246.88 L617.80 248.10 L617.80 249.32 L617.80 250.54 L617.80 251.76 L617.80 252.98 L617.80 254.20" stroke-width="4.6"/>
<path d="M600.40 181.00 L600.40 182.22 L600.40 183.44 L600.40 184.66 L600.48 185.88 L600.69 187.10 L601.02 188.32 L601.48 189.54 L602.04 190.76 L602.71 191.98 L603.47 193.20 L604.32 194.42 L605.24 195.64 L606.21 196.86 L607.23 198.08 L608.28 199.30 L609.33 200.52 L610.39 201.74 L611.42 202.96 L612.42 204.18 L613.37 205.40 L614.26 206.62 L615.07 207.84 L615.80 209.06 L616.42 210.28 L616.94 211.50 L617.34 212.72 L617.62 213.94 L617.77 215.16 L617.79 216.38 L617.69 217.60 L617.46 218.82 L617.10 220.04 L616.63 221.26 L616.05 222.48 L615.36 223.70 L614.58 224.92 L613.72 226.14 L612.79 227.36 L611.80 228.58 L610.78 229.80 L609.73 231.02 L608.68 232.24 L607.62 233.46 L606.59 234.68 L605.60 235.90 L604.66 237.12 L603.78 238.34 L602.99 239.56 L602.28 240.78 L601.68 242.00 L601.18 243.22 L600.80 244.44 L600.55 245.66 L600.42 246.88 L600.40 248.10 L600.40 249.32 L600.40 250.54 L600.40 251.76 L600.40 252.98 L600.40 254.20" stroke-width="4.6"/>
<path d="M601.68 190.01 L602.01 190.69 L602.37 191.38 L602.76 192.06 L603.18 192.74 L603.62 193.42 L604.10 194.11 L604.59 194.79 L605.11 195.47 L605.64 196.16 L606.20 196.84 L606.76 197.52 L607.34 198.20 L607.92 198.88 L608.51 199.57 L609.10 200.25 L609.69 200.93 L610.28 201.62 L610.86 202.30 L611.44 202.98 L612.00 203.66 L612.56 204.34 L613.09 205.03 L613.61 205.71 L614.10 206.39 L614.58 207.08 L615.02 207.76 L615.44 208.44 L615.83 209.12 L616.19 209.81 L616.52 210.49" stroke="#fff" stroke-width="7.199999999999999" stroke-linecap="butt"/>
<path d="M600.93 188.01 L601.20 188.83 L601.52 189.64 L601.89 190.46 L602.31 191.28 L602.78 192.09 L603.28 192.91 L603.83 193.72 L604.41 194.54 L605.02 195.35 L605.66 196.17 L606.32 196.99 L607.00 197.80 L607.69 198.62 L608.39 199.43 L609.10 200.25 L609.81 201.07 L610.51 201.88 L611.20 202.70 L611.88 203.51 L612.54 204.33 L613.18 205.15 L613.79 205.96 L614.37 206.78 L614.92 207.59 L615.42 208.41 L615.89 209.22 L616.31 210.04 L616.68 210.86 L617.00 211.67 L617.27 212.49" stroke-width="5.5"/>
<path d="M601.68 221.51 L602.01 222.19 L602.37 222.88 L602.76 223.56 L603.18 224.24 L603.62 224.92 L604.10 225.61 L604.59 226.29 L605.11 226.97 L605.64 227.66 L606.20 228.34 L606.76 229.02 L607.34 229.70 L607.92 230.38 L608.51 231.07 L609.10 231.75 L609.69 232.43 L610.28 233.12 L610.86 233.80 L611.44 234.48 L612.00 235.16 L612.56 235.84 L613.09 236.53 L613.61 237.21 L614.10 237.89 L614.58 238.58 L615.02 239.26 L615.44 239.94 L615.83 240.62 L616.19 241.31 L616.52 241.99" stroke="#fff" stroke-width="7.199999999999999" stroke-linecap="butt"/>
<path d="M600.93 219.51 L601.20 220.33 L601.52 221.14 L601.89 221.96 L602.31 222.78 L602.78 223.59 L603.28 224.41 L603.83 225.22 L604.41 226.04 L605.02 226.85 L605.66 227.67 L606.32 228.49 L607.00 229.30 L607.69 230.12 L608.39 230.93 L609.10 231.75 L609.81 232.57 L610.51 233.38 L611.20 234.20 L611.88 235.01 L612.54 235.83 L613.18 236.65 L613.79 237.46 L614.37 238.28 L614.92 239.09 L615.42 239.91 L615.89 240.72 L616.31 241.54 L616.68 242.36 L617.00 243.17 L617.27 243.99" stroke-width="5.5"/>
</g>
<text x="461.6" y="273" font-size="13.3" fill="#111">PheRS:</text>
<text x="517.8" y="273" font-size="13.3" text-anchor="middle" fill="#111">0</text>
<text x="566" y="273" font-size="13.3" text-anchor="middle" fill="#111">12.5</text>
<text x="608.4" y="273" font-size="13.3" text-anchor="middle" fill="#111">25</text>
<text x="13.6" y="343.7" font-size="19" font-weight="bold" textLength="16.5" lengthAdjust="spacingAndGlyphs" fill="#000">B.</text>
<polygon points="68.5,627.3 68.5,646.0 69.2,641.0 70.0,638.5 71.1,636.5 75.5,633.6 84.1,631.4 95.0,630.4 116.6,629.4 138.2,628.6 168.5,628.0 200.0,627.7 240.0,627.5 254.0,627.3" fill="#b7b7b7"/>
<polyline points="68.5,646.0 69.2,641.0 70.0,638.5 71.1,636.5 75.5,633.6 84.1,631.4 95.0,630.4 116.6,629.4 138.2,628.6 168.5,628.0 200.0,627.7 240.0,627.5 254.0,627.3" fill="none" stroke="#b7b7b7" stroke-width="2.2" stroke-linejoin="round" stroke-linecap="round"/>
<path d="M67.4 627.1999999999999 H256" stroke="#b7b7b7" stroke-width="2.6"/>
<path d="M68.6 628 V645.3" stroke="#b7b7b7" stroke-width="3.2" stroke-linecap="round"/>
<polygon points="254,627.5 254.0,627.3 256.1,626.5 272.1,622.3 294.4,615.4 310.5,611.2 324.1,606.3 338.9,599.3 351.8,590.1 360.9,581.3 366.1,574.6 371.1,563.5 373.4,558.4 375.5,550.3 377.5,540.2 378.8,530.1 379.8,518.1 380.5,508.1 379.7,503.6 381.9,503.6 381.9,627.5" fill="#b7b7b7"/>
<path d="M268.00 627.5 V624.18" stroke="#2f626b" stroke-width="0.90"/>
<path d="M270.00 627.5 V623.65" stroke="#2f626b" stroke-width="0.90"/>
<path d="M272.70 627.5 V622.91" stroke="#2f626b" stroke-width="0.90"/>
<path d="M281.00 627.5 V620.35" stroke="#2f626b" stroke-width="0.90"/>
<path d="M294.00 627.5 V616.32" stroke="#2f626b" stroke-width="0.90"/>
<path d="M296.20 627.5 V615.73" stroke="#2f626b" stroke-width="0.90"/>
<path d="M308.50 627.5 V612.52" stroke="#2f626b" stroke-width="0.70"/>
<path d="M310.22 627.5 V612.07" stroke="#2f626b" stroke-width="0.72"/>
<path d="M311.81 627.5 V611.53" stroke="#2f626b" stroke-width="0.73"/>
<path d="M313.89 627.5 V610.78" stroke="#2f626b" stroke-width="0.72"/>
<path d="M316.16 627.5 V609.96" stroke="#2f626b" stroke-width="0.73"/>
<path d="M318.29 627.5 V609.19" stroke="#2f626b" stroke-width="0.74"/>
<path d="M319.87 627.5 V608.62" stroke="#2f626b" stroke-width="0.78"/>
<path d="M322.61 627.5 V607.64" stroke="#2f626b" stroke-width="0.76"/>
<path d="M324.38 627.5 V606.97" stroke="#2f626b" stroke-width="0.84"/>
<path d="M327.28 627.5 V605.60" stroke="#2f626b" stroke-width="0.86"/>
<path d="M329.34 627.5 V604.62" stroke="#2f626b" stroke-width="0.95"/>
<path d="M330.98 627.5 V603.85" stroke="#2f626b" stroke-width="0.94"/>
<path d="M332.94 627.5 V602.92" stroke="#2f626b" stroke-width="0.81"/>
<path d="M334.52 627.5 V602.17" stroke="#2f626b" stroke-width="0.86"/>
<path d="M337.05 627.5 V600.98" stroke="#2f626b" stroke-width="0.84"/>
<path d="M339.21 627.5 V599.87" stroke="#2f626b" stroke-width="0.97"/>
<path d="M341.22 627.5 V598.44" stroke="#2f626b" stroke-width="0.97"/>
<path d="M342.81 627.5 V597.30" stroke="#2f626b" stroke-width="0.83"/>
<path d="M344.43 627.5 V596.13" stroke="#2f626b" stroke-width="1.03"/>
<path d="M346.50 627.5 V594.65" stroke="#2f626b" stroke-width="0.93"/>
<path d="M348.62 627.5 V593.13" stroke="#2f626b" stroke-width="0.99"/>
<path d="M350.45 627.5 V591.82" stroke="#2f626b" stroke-width="1.13"/>
<path d="M352.83 627.5 V589.87" stroke="#2f626b" stroke-width="0.94"/>
<path d="M354.86 627.5 V587.93" stroke="#2f626b" stroke-width="1.07"/>
<path d="M357.28 627.5 V585.62" stroke="#2f626b" stroke-width="1.17"/>
<path d="M359.19 627.5 V583.80" stroke="#2f626b" stroke-width="1.30"/>
<path d="M361.03 627.5 V582.00" stroke="#2f626b" stroke-width="1.07"/>
<path d="M363.23 627.5 V579.14" stroke="#2f626b" stroke-width="0.96"/>
<path d="M365.04 627.5 V576.79" stroke="#2f626b" stroke-width="0.91"/>
<path d="M366.93 627.5 V573.56" stroke="#2f626b" stroke-width="1.28"/>
<polygon points="367,627.5 367.0,572.6 371.1,563.5 373.4,558.4 375.5,550.3 377.5,540.2 378.8,530.1 379.8,518.1 380.5,508.1 379.7,503.6 381.9,503.6 381.9,627.5" fill="#2f626b"/>
<path d="M368.4 627.5 V573.5" stroke="#7d9ba0" stroke-width="0.45"/>
<path d="M369.9 627.5 V570.2" stroke="#7d9ba0" stroke-width="0.45"/>
<path d="M371.6 627.5 V566.5" stroke="#7d9ba0" stroke-width="0.45"/>
<path d="M373.5 627.5 V562.0" stroke="#7d9ba0" stroke-width="0.45"/>
<path d="M375.6 627.5 V553.9" stroke="#7d9ba0" stroke-width="0.45"/>
<path d="M381.4 367 V505" stroke="#d0d0d0" stroke-width="0.6"/>
<circle cx="86.70" cy="630.96" r="1.7" fill="#2f626b"/>
<circle cx="88.60" cy="630.79" r="1.7" fill="#2f626b"/>
<circle cx="95.00" cy="630.20" r="1.7" fill="#2f626b"/>
<circle cx="101.40" cy="629.90" r="1.7" fill="#2f626b"/>
<circle cx="136.50" cy="627.70" r="1.7" fill="#2f626b"/>
<circle cx="256.59" cy="626.73" r="1.7" fill="#2f626b"/>
<circle cx="257.89" cy="626.39" r="1.7" fill="#2f626b"/>
<circle cx="259.09" cy="626.08" r="1.7" fill="#2f626b"/>
<circle cx="260.39" cy="625.74" r="1.7" fill="#2f626b"/>
<circle cx="261.89" cy="625.34" r="1.7" fill="#2f626b"/>
<circle cx="263.09" cy="625.03" r="1.7" fill="#2f626b"/>
<circle cx="264.59" cy="624.63" r="1.7" fill="#2f626b"/>
<circle cx="266.09" cy="624.24" r="1.7" fill="#2f626b"/>
<circle cx="267.59" cy="623.85" r="1.7" fill="#2f626b"/>
<circle cx="268.89" cy="623.50" r="1.7" fill="#2f626b"/>
<circle cx="270.09" cy="623.19" r="1.7" fill="#2f626b"/>
<circle cx="271.49" cy="622.82" r="1.7" fill="#2f626b"/>
<circle cx="272.80" cy="622.45" r="1.7" fill="#2f626b"/>
<circle cx="281.10" cy="619.88" r="1.7" fill="#2f626b"/>
<circle cx="293.60" cy="616.01" r="1.7" fill="#2f626b"/>
<circle cx="295.09" cy="615.58" r="1.7" fill="#2f626b"/>
<circle cx="296.59" cy="615.19" r="1.7" fill="#2f626b"/>
<circle cx="297.59" cy="614.93" r="1.7" fill="#2f626b"/>
<circle cx="309.09" cy="611.93" r="1.7" fill="#2f626b"/>
<circle cx="310.35" cy="611.60" r="1.7" fill="#2f626b"/>
<circle cx="311.62" cy="611.17" r="1.7" fill="#2f626b"/>
<circle cx="312.87" cy="610.72" r="1.7" fill="#2f626b"/>
<circle cx="314.12" cy="610.27" r="1.7" fill="#2f626b"/>
<circle cx="315.37" cy="609.82" r="1.7" fill="#2f626b"/>
<circle cx="316.62" cy="609.37" r="1.7" fill="#2f626b"/>
<circle cx="317.87" cy="608.92" r="1.7" fill="#2f626b"/>
<circle cx="319.12" cy="608.47" r="1.7" fill="#2f626b"/>
<circle cx="320.37" cy="608.02" r="1.7" fill="#2f626b"/>
<circle cx="321.62" cy="607.57" r="1.7" fill="#2f626b"/>
<circle cx="322.87" cy="607.12" r="1.7" fill="#2f626b"/>
<circle cx="324.13" cy="606.66" r="1.7" fill="#2f626b"/>
<circle cx="325.45" cy="606.05" r="1.7" fill="#2f626b"/>
<circle cx="330.45" cy="603.68" r="1.7" fill="#2f626b"/>
<circle cx="334.15" cy="601.93" r="1.7" fill="#2f626b"/>
<circle cx="337.85" cy="600.18" r="1.7" fill="#2f626b"/>
<circle cx="340.30" cy="598.72" r="1.7" fill="#2f626b"/>
<circle cx="343.60" cy="596.36" r="1.7" fill="#2f626b"/>
<circle cx="346.50" cy="594.28" r="1.7" fill="#2f626b"/>
<circle cx="349.00" cy="592.49" r="1.7" fill="#2f626b"/>
<circle cx="351.50" cy="590.70" r="1.7" fill="#2f626b"/>
<circle cx="353.94" cy="588.49" r="1.7" fill="#2f626b"/>
<circle cx="355.74" cy="586.77" r="1.7" fill="#2f626b"/>
<circle cx="357.24" cy="585.34" r="1.7" fill="#2f626b"/>
<circle cx="358.74" cy="583.91" r="1.7" fill="#2f626b"/>
<circle cx="360.24" cy="582.48" r="1.7" fill="#2f626b"/>
<circle cx="361.26" cy="581.47" r="1.7" fill="#2f626b"/>
<circle cx="362.27" cy="580.17" r="1.7" fill="#2f626b"/>
<circle cx="363.20" cy="578.95" r="1.7" fill="#2f626b"/>
<circle cx="364.09" cy="577.79" r="1.7" fill="#2f626b"/>
<circle cx="364.93" cy="576.70" r="1.7" fill="#2f626b"/>
<circle cx="365.73" cy="575.66" r="1.7" fill="#2f626b"/>
<circle cx="366.52" cy="574.52" r="1.7" fill="#2f626b"/>
<circle cx="367.24" cy="572.92" r="1.7" fill="#2f626b"/>
<circle cx="367.92" cy="571.43" r="1.7" fill="#2f626b"/>
<circle cx="368.56" cy="570.02" r="1.7" fill="#2f626b"/>
<circle cx="369.17" cy="568.69" r="1.7" fill="#2f626b"/>
<circle cx="369.75" cy="567.42" r="1.7" fill="#2f626b"/>
<circle cx="370.29" cy="566.22" r="1.7" fill="#2f626b"/>
<circle cx="370.81" cy="565.08" r="1.7" fill="#2f626b"/>
<circle cx="371.30" cy="564.01" r="1.7" fill="#2f626b"/>
<circle cx="371.77" cy="562.96" r="1.7" fill="#2f626b"/>
<circle cx="372.21" cy="561.96" r="1.7" fill="#2f626b"/>
<circle cx="372.62" cy="561.01" r="1.7" fill="#2f626b"/>
<circle cx="373.02" cy="560.11" r="1.7" fill="#2f626b"/>
<circle cx="373.40" cy="559.24" r="1.7" fill="#2f626b"/>
<circle cx="373.76" cy="558.36" r="1.7" fill="#2f626b"/>
<circle cx="374.10" cy="557.07" r="1.7" fill="#2f626b"/>
<circle cx="374.42" cy="555.85" r="1.7" fill="#2f626b"/>
<circle cx="374.72" cy="554.71" r="1.7" fill="#2f626b"/>
<circle cx="375.00" cy="553.62" r="1.7" fill="#2f626b"/>
<circle cx="375.27" cy="552.59" r="1.7" fill="#2f626b"/>
<circle cx="375.53" cy="551.61" r="1.7" fill="#2f626b"/>
<circle cx="375.77" cy="550.68" r="1.7" fill="#2f626b"/>
<circle cx="376.00" cy="549.63" r="1.7" fill="#2f626b"/>
<circle cx="376.22" cy="548.54" r="1.7" fill="#2f626b"/>
<circle cx="376.43" cy="547.50" r="1.7" fill="#2f626b"/>
<circle cx="376.63" cy="546.53" r="1.7" fill="#2f626b"/>
<circle cx="376.81" cy="545.60" r="1.7" fill="#2f626b"/>
<circle cx="376.99" cy="544.72" r="1.7" fill="#2f626b"/>
<circle cx="377.15" cy="543.89" r="1.7" fill="#2f626b"/>
<circle cx="377.31" cy="543.11" r="1.7" fill="#2f626b"/>
<circle cx="377.46" cy="542.36" r="1.7" fill="#2f626b"/>
<circle cx="377.60" cy="541.65" r="1.7" fill="#2f626b"/>
<circle cx="377.74" cy="540.97" r="1.7" fill="#2f626b"/>
<circle cx="377.86" cy="540.34" r="1.7" fill="#2f626b"/>
<circle cx="377.98" cy="539.45" r="1.7" fill="#2f626b"/>
<circle cx="378.10" cy="538.53" r="1.7" fill="#2f626b"/>
<circle cx="378.22" cy="537.60" r="1.7" fill="#2f626b"/>
<circle cx="378.34" cy="536.68" r="1.7" fill="#2f626b"/>
<circle cx="378.46" cy="535.75" r="1.7" fill="#2f626b"/>
<circle cx="378.58" cy="534.83" r="1.7" fill="#2f626b"/>
<circle cx="378.70" cy="533.91" r="1.7" fill="#2f626b"/>
<circle cx="378.83" cy="532.98" r="1.7" fill="#2f626b"/>
<circle cx="378.95" cy="532.06" r="1.7" fill="#2f626b"/>
<circle cx="379.07" cy="531.13" r="1.7" fill="#2f626b"/>
<circle cx="379.19" cy="530.21" r="1.7" fill="#2f626b"/>
<circle cx="379.31" cy="528.79" r="1.7" fill="#2f626b"/>
<circle cx="379.43" cy="527.35" r="1.7" fill="#2f626b"/>
<circle cx="379.55" cy="525.91" r="1.7" fill="#2f626b"/>
<circle cx="379.67" cy="524.47" r="1.7" fill="#2f626b"/>
<circle cx="379.79" cy="523.04" r="1.7" fill="#2f626b"/>
<circle cx="379.90" cy="521.60" r="1.7" fill="#2f626b"/>
<circle cx="381.4" cy="366.6" r="1.75" fill="#b7b7b7"/>
<circle cx="381.4" cy="381.5" r="1.9" fill="#2f626b"/>
<circle cx="381.4" cy="385.3" r="1.9" fill="#2f626b"/>
<circle cx="381.4" cy="392.0" r="1.75" fill="#b7b7b7"/>
<circle cx="381.4" cy="394.4" r="1.75" fill="#b7b7b7"/>
<circle cx="381.4" cy="396.8" r="1.75" fill="#b7b7b7"/>
<circle cx="381.4" cy="399.2" r="1.75" fill="#b7b7b7"/>
<circle cx="381.4" cy="403.5" r="1.75" fill="#b7b7b7"/>
<circle cx="381.4" cy="410.0" r="1.75" fill="#b7b7b7"/>
<circle cx="381.4" cy="414.0" r="1.9" fill="#2f626b"/>
<circle cx="381.4" cy="422.0" r="1.9" fill="#2f626b"/>
<circle cx="381.4" cy="424.6" r="1.9" fill="#2f626b"/>
<circle cx="381.4" cy="427.2" r="1.9" fill="#2f626b"/>
<circle cx="381.4" cy="429.8" r="1.9" fill="#2f626b"/>
<circle cx="381.4" cy="436.0" r="1.75" fill="#b7b7b7"/>
<circle cx="381.4" cy="438.0" r="1.75" fill="#b7b7b7"/>
<circle cx="381.4" cy="440.0" r="1.75" fill="#b7b7b7"/>
<circle cx="381.4" cy="443.0" r="1.9" fill="#2f626b"/>
<circle cx="381.4" cy="445.4" r="1.9" fill="#2f626b"/>
<circle cx="381.4" cy="447.8" r="1.9" fill="#2f626b"/>
<circle cx="381.4" cy="450.2" r="1.9" fill="#2f626b"/>
<circle cx="381.4" cy="453.5" r="1.75" fill="#b7b7b7"/>
<circle cx="381.4" cy="455.7" r="1.75" fill="#b7b7b7"/>
<circle cx="381.4" cy="457.9" r="1.75" fill="#b7b7b7"/>
<circle cx="381.4" cy="460.1" r="1.75" fill="#b7b7b7"/>
<circle cx="381.4" cy="462.3" r="1.75" fill="#b7b7b7"/>
<circle cx="381.4" cy="465.3" r="1.9" fill="#2f626b"/>
<circle cx="381.4" cy="467.3" r="1.9" fill="#2f626b"/>
<circle cx="381.4" cy="469.3" r="1.9" fill="#2f626b"/>
<circle cx="381.4" cy="471.3" r="1.9" fill="#2f626b"/>
<circle cx="381.4" cy="473.3" r="1.9" fill="#2f626b"/>
<circle cx="381.4" cy="475.3" r="1.9" fill="#2f626b"/>
<circle cx="381.4" cy="477.3" r="1.9" fill="#2f626b"/>
<circle cx="381.4" cy="479.3" r="1.9" fill="#2f626b"/>
<circle cx="381.4" cy="481.3" r="1.9" fill="#2f626b"/>
<circle cx="381.4" cy="486.0" r="1.9" fill="#2f626b"/>
<circle cx="381.4" cy="487.6" r="1.9" fill="#2f626b"/>
<circle cx="381.4" cy="489.2" r="1.9" fill="#2f626b"/>
<circle cx="381.4" cy="490.8" r="1.9" fill="#2f626b"/>
<circle cx="381.4" cy="492.4" r="1.9" fill="#2f626b"/>
<circle cx="381.4" cy="494.0" r="1.9" fill="#2f626b"/>
<circle cx="381.4" cy="495.6" r="1.9" fill="#2f626b"/>
<circle cx="381.4" cy="497.2" r="1.9" fill="#2f626b"/>
<circle cx="381.4" cy="498.8" r="1.9" fill="#2f626b"/>
<circle cx="381.4" cy="500.4" r="1.9" fill="#2f626b"/>
<circle cx="381.4" cy="502.0" r="1.9" fill="#2f626b"/>
<circle cx="381.4" cy="504.0" r="1.75" fill="#b7b7b7"/>
<path d="M53 353.2 V658.6 H397.7" fill="none" stroke="#333" stroke-width="1.3"/>
<path d="M50.3 627.5 H53" stroke="#333" stroke-width="0.9"/>
<text x="48.6" y="629.9" font-size="7.3" text-anchor="end" fill="#3d3d3d">0</text>
<path d="M50.3 559.4 H53" stroke="#333" stroke-width="0.9"/>
<text x="48.6" y="561.8" font-size="7.3" text-anchor="end" fill="#3d3d3d">20</text>
<path d="M50.3 491.3 H53" stroke="#333" stroke-width="0.9"/>
<text x="48.6" y="493.7" font-size="7.3" text-anchor="end" fill="#3d3d3d">40</text>
<path d="M50.3 423.3 H53" stroke="#333" stroke-width="0.9"/>
<text x="48.6" y="425.7" font-size="7.3" text-anchor="end" fill="#3d3d3d">60</text>
<path d="M50.3 355.2 H53" stroke="#333" stroke-width="0.9"/>
<text x="48.6" y="357.6" font-size="7.3" text-anchor="end" fill="#3d3d3d">80</text>
<path d="M68.5 658.5 V661.3" stroke="#333" stroke-width="0.9"/>
<text x="68.5" y="668.2" font-size="7.3" text-anchor="middle" fill="#3d3d3d">0</text>
<path d="M155.5 658.5 V661.3" stroke="#333" stroke-width="0.9"/>
<text x="155.5" y="668.2" font-size="7.3" text-anchor="middle" fill="#3d3d3d">25000</text>
<path d="M242.5 658.5 V661.3" stroke="#333" stroke-width="0.9"/>
<text x="242.5" y="668.2" font-size="7.3" text-anchor="middle" fill="#3d3d3d">50000</text>
<path d="M329.5 658.5 V661.3" stroke="#333" stroke-width="0.9"/>
<text x="329.5" y="668.2" font-size="7.3" text-anchor="middle" fill="#3d3d3d">75000</text>
<text x="220.5" y="695.6" font-size="15.5" text-anchor="middle" fill="#111">Individuals ranked</text>
<text transform="translate(30.5,493) rotate(-90)" font-size="15.5" text-anchor="middle" fill="#111">Tic Disorder PheRS</text>
<path d="M73.4 569.2 H89.2" stroke="#b7b7b7" stroke-width="1"/><circle cx="81.2" cy="569.2" r="2.7" fill="#b7b7b7"/>
<path d="M73.4 589.8 H89.2" stroke="#2f626b" stroke-width="1"/><circle cx="81.2" cy="589.8" r="2.7" fill="#2f626b"/>
<text x="91.8" y="576.7" font-size="13.3" fill="#111">Undefined tic disorder status</text>
<text x="91.8" y="596.7" font-size="13.3" fill="#111">Tic clinician-validated case</text>
<rect x="67.5" y="355.7" width="282" height="147" fill="#fff" stroke="#e3e3e3" stroke-width="1"/>
<path d="M93.45 360.8 V477.8" stroke="#2a2a2a" stroke-width="0.75"/>
<path d="M93 477.8 H343" stroke="#e6e6e6" stroke-width="1"/>
<path d="M91.8 477.6 H93.4" stroke="#333" stroke-width="0.6"/>
<text x="90.6" y="478.8" font-size="4.3" text-anchor="end" fill="#5a5a5a">0</text>
<path d="M91.8 454.4 H93.4" stroke="#333" stroke-width="0.6"/>
<text x="90.6" y="455.6" font-size="4.3" text-anchor="end" fill="#5a5a5a">0.5</text>
<path d="M91.8 431.1 H93.4" stroke="#333" stroke-width="0.6"/>
<text x="90.6" y="432.3" font-size="4.3" text-anchor="end" fill="#5a5a5a">1</text>
<path d="M91.8 407.9 H93.4" stroke="#333" stroke-width="0.6"/>
<text x="90.6" y="409.1" font-size="4.3" text-anchor="end" fill="#5a5a5a">1.5</text>
<path d="M91.8 384.6 H93.4" stroke="#333" stroke-width="0.6"/>
<text x="90.6" y="385.8" font-size="4.3" text-anchor="end" fill="#5a5a5a">2</text>
<path d="M91.8 361.4 H93.4" stroke="#333" stroke-width="0.6"/>
<text x="90.6" y="362.6" font-size="4.3" text-anchor="end" fill="#5a5a5a">2.5</text>
<polyline points="105.9,476.1 130.9,476.6 155.9,468.1 180.9,477.4 205.9,477.5 230.9,477.6 255.9,471.3 280.9,470.9 305.9,468.7 330.9,373.4" fill="none" stroke="#111" stroke-width="1.25" stroke-linejoin="round"/>
<circle cx="105.9" cy="476.1" r="1.75" fill="#000"/>
<circle cx="130.9" cy="476.6" r="1.75" fill="#000"/>
<circle cx="155.9" cy="468.1" r="1.75" fill="#000"/>
<circle cx="180.9" cy="477.4" r="1.75" fill="#000"/>
<circle cx="205.9" cy="477.5" r="1.75" fill="#000"/>
<circle cx="230.9" cy="477.6" r="1.75" fill="#000"/>
<circle cx="255.9" cy="471.3" r="1.75" fill="#000"/>
<circle cx="280.9" cy="470.9" r="1.75" fill="#000"/>
<circle cx="305.9" cy="468.7" r="1.75" fill="#000"/>
<circle cx="330.9" cy="373.4" r="1.75" fill="#000"/>
<text x="105.9" y="485" font-size="4" text-anchor="middle" fill="#5a5a5a">1</text>
<text x="130.9" y="485" font-size="4" text-anchor="middle" fill="#5a5a5a">2</text>
<text x="155.9" y="485" font-size="4" text-anchor="middle" fill="#5a5a5a">3</text>
<text x="180.9" y="485" font-size="4" text-anchor="middle" fill="#5a5a5a">4</text>
<text x="205.9" y="485" font-size="4" text-anchor="middle" fill="#5a5a5a">5</text>
<text x="230.9" y="485" font-size="4" text-anchor="middle" fill="#5a5a5a">6</text>
<text x="255.9" y="485" font-size="4" text-anchor="middle" fill="#5a5a5a">7</text>
<text x="280.9" y="485" font-size="4" text-anchor="middle" fill="#5a5a5a">8</text>
<text x="305.9" y="485" font-size="4" text-anchor="middle" fill="#5a5a5a">9</text>
<text x="330.9" y="485" font-size="4" text-anchor="middle" fill="#5a5a5a">10</text>
<text x="172.6" y="495" font-size="8.9" textLength="92.8" lengthAdjust="spacingAndGlyphs" fill="#111">Tic Disorder PheRS Decile</text>
<text transform="translate(81,471) rotate(-90)" font-size="8.9" textLength="103.4" lengthAdjust="spacingAndGlyphs" fill="#111">% TD Cases/ Total Individuals</text>
<text x="417.3" y="343.6" font-size="19" font-weight="bold" textLength="15.9" lengthAdjust="spacingAndGlyphs" fill="#000">C.</text>
<path d="M453.2 362.6 V643.2 H611" fill="none" stroke="#333" stroke-width="1.3"/>
<path d="M450 374.8 H453.2" stroke="#333" stroke-width="1"/>
<text x="447.6" y="379.2" font-size="10.3" text-anchor="end" fill="#444">5</text>
<path d="M450 502.5 H453.2" stroke="#333" stroke-width="1"/>
<text x="447.6" y="506.9" font-size="10.3" text-anchor="end" fill="#444">0</text>
<path d="M450 630.3 H453.2" stroke="#333" stroke-width="1"/>
<text x="447.6" y="634.7" font-size="10.3" text-anchor="end" fill="#444">−5</text>
<path d="M496.2 643.2 V647" stroke="#333" stroke-width="1"/>
<path d="M567.7 643.2 V647" stroke="#333" stroke-width="1"/>
<text x="501" y="660.3" font-size="13.1" text-anchor="middle" fill="#222">non-case</text>
<text x="568.8" y="660.3" font-size="13.1" text-anchor="middle" fill="#222">case</text>
<text x="531.2" y="696.3" font-size="15.65" text-anchor="middle" fill="#111">Tic Disorder Case Status</text>
<text transform="translate(434.4,505.8) rotate(-90)" font-size="15.5" text-anchor="middle" fill="#111">Tic Disorder PheRS (INT)</text>
<path d="M496.2 384.4 V616.6" stroke="#333333" stroke-width="1"/>
<polygon points="495.80,452.60 494.40,460.00 492.60,470.00 489.90,484.60 489.40,488.00 489.40,491.40 490.60,493.30 491.60,494.80 491.90,501.70 491.70,504.70 485.20,505.60 474.20,506.90 463.80,508.00 463.80,508.40 472.20,509.40 480.80,510.60 489.30,512.00 492.60,513.20 494.40,514.20 495.40,515.50 495.70,517.00 495.70,520.30 493.60,521.60 491.20,523.10 491.20,525.00 491.80,526.50 493.20,528.30 492.80,529.20 492.10,530.40 492.60,531.60 493.40,532.50 494.20,536.00 494.70,540.00 495.20,543.50 495.80,546.00 496.60,546.00 497.20,543.50 497.70,540.00 498.20,536.00 499.00,532.50 499.80,531.60 500.30,530.40 499.60,529.20 499.20,528.30 500.60,526.50 501.20,525.00 501.20,523.10 498.80,521.60 496.70,520.30 496.70,517.00 497.00,515.50 498.00,514.20 499.80,513.20 503.10,512.00 511.60,510.60 520.20,509.40 528.60,508.40 528.60,508.00 518.20,506.90 507.20,505.60 500.70,504.70 500.50,501.70 500.80,494.80 501.80,493.30 503.00,491.40 503.00,488.00 502.50,484.60 499.80,470.00 498.00,460.00 496.60,452.60" fill="#22a5a5" stroke="#2e2e2e" stroke-width="1" stroke-linejoin="round"/>
<path d="M496.2 453 L492.7 486 M496.2 453 L499.7 486" stroke="#333333" stroke-width="0.55" fill="none"/>
<path d="M496.2 452 V486 M496.2 508 V546" stroke="#333333" stroke-width="0.9"/>
<rect x="492.9" y="485.9" width="6.9" height="21.6" fill="#a9bfbc" stroke="#333333" stroke-width="1"/>
<path d="M492.9 507.2 H499.8" stroke="#333333" stroke-width="1.6"/>
<circle cx="496.2" cy="390.2" r="2.6" fill="#333333"/>
<path d="M496.2 401.8 V450" stroke="#333333" stroke-width="4.9" stroke-linecap="round"/>
<path d="M496.2 544.5 V604" stroke="#333333" stroke-width="4.9" stroke-linecap="round"/>
<circle cx="496.2" cy="610.6" r="2.5" fill="#333333"/>
<path d="M567.6 376.4 V562.2" stroke="#333333" stroke-width="1"/>
<polygon points="567.20,397.00 567.00,405.00 566.60,415.00 566.20,421.00 565.70,425.00 564.60,430.00 563.10,435.30 562.00,440.00 561.00,445.30 560.30,450.00 559.90,454.50 560.20,460.00 560.90,465.00 561.60,468.80 562.90,473.00 564.00,478.00 564.60,485.00 565.10,493.50 565.40,501.00 565.70,508.80 566.30,515.00 567.20,520.50 568.00,520.50 568.90,515.00 569.50,508.80 569.80,501.00 570.10,493.50 570.60,485.00 571.20,478.00 572.30,473.00 573.60,468.80 574.30,465.00 575.00,460.00 575.30,454.50 574.90,450.00 574.20,445.30 573.20,440.00 572.10,435.30 570.60,430.00 569.50,425.00 569.00,421.00 568.60,415.00 568.20,405.00 568.00,397.00" fill="#22a5a5" stroke="#2e2e2e" stroke-width="1" stroke-linejoin="round"/>
<path d="M567.6 397 V442 M567.6 471.3 V520.5" stroke="#333333" stroke-width="0.9"/>
<path d="M567.6 400 L564.2 442 M567.6 400 L571.0 442 M564.2 471.3 L567.6 518 M571.0 471.3 L567.6 518" stroke="#333333" stroke-width="0.5" fill="none"/>
<rect x="564.1" y="442" width="7" height="29.3" fill="#a9bfbc" stroke="#333333" stroke-width="1"/>
<path d="M564.1 455.8 H571.1" stroke="#333333" stroke-width="1.7"/>
<circle cx="567.6" cy="395.9" r="2.5" fill="#333333"/>
<circle cx="567.6" cy="522.6" r="2.4" fill="#333333"/>
<circle cx="567.6" cy="531.7" r="2.4" fill="#333333"/>
<circle cx="567.6" cy="537.2" r="2.3" fill="#333333"/>
<circle cx="567.6" cy="540.9" r="2.3" fill="#333333"/>
<text x="567.7" y="373.6" font-size="18" font-weight="bold" text-anchor="middle" fill="#c8282a">*</text>
</svg>
</body></html>
